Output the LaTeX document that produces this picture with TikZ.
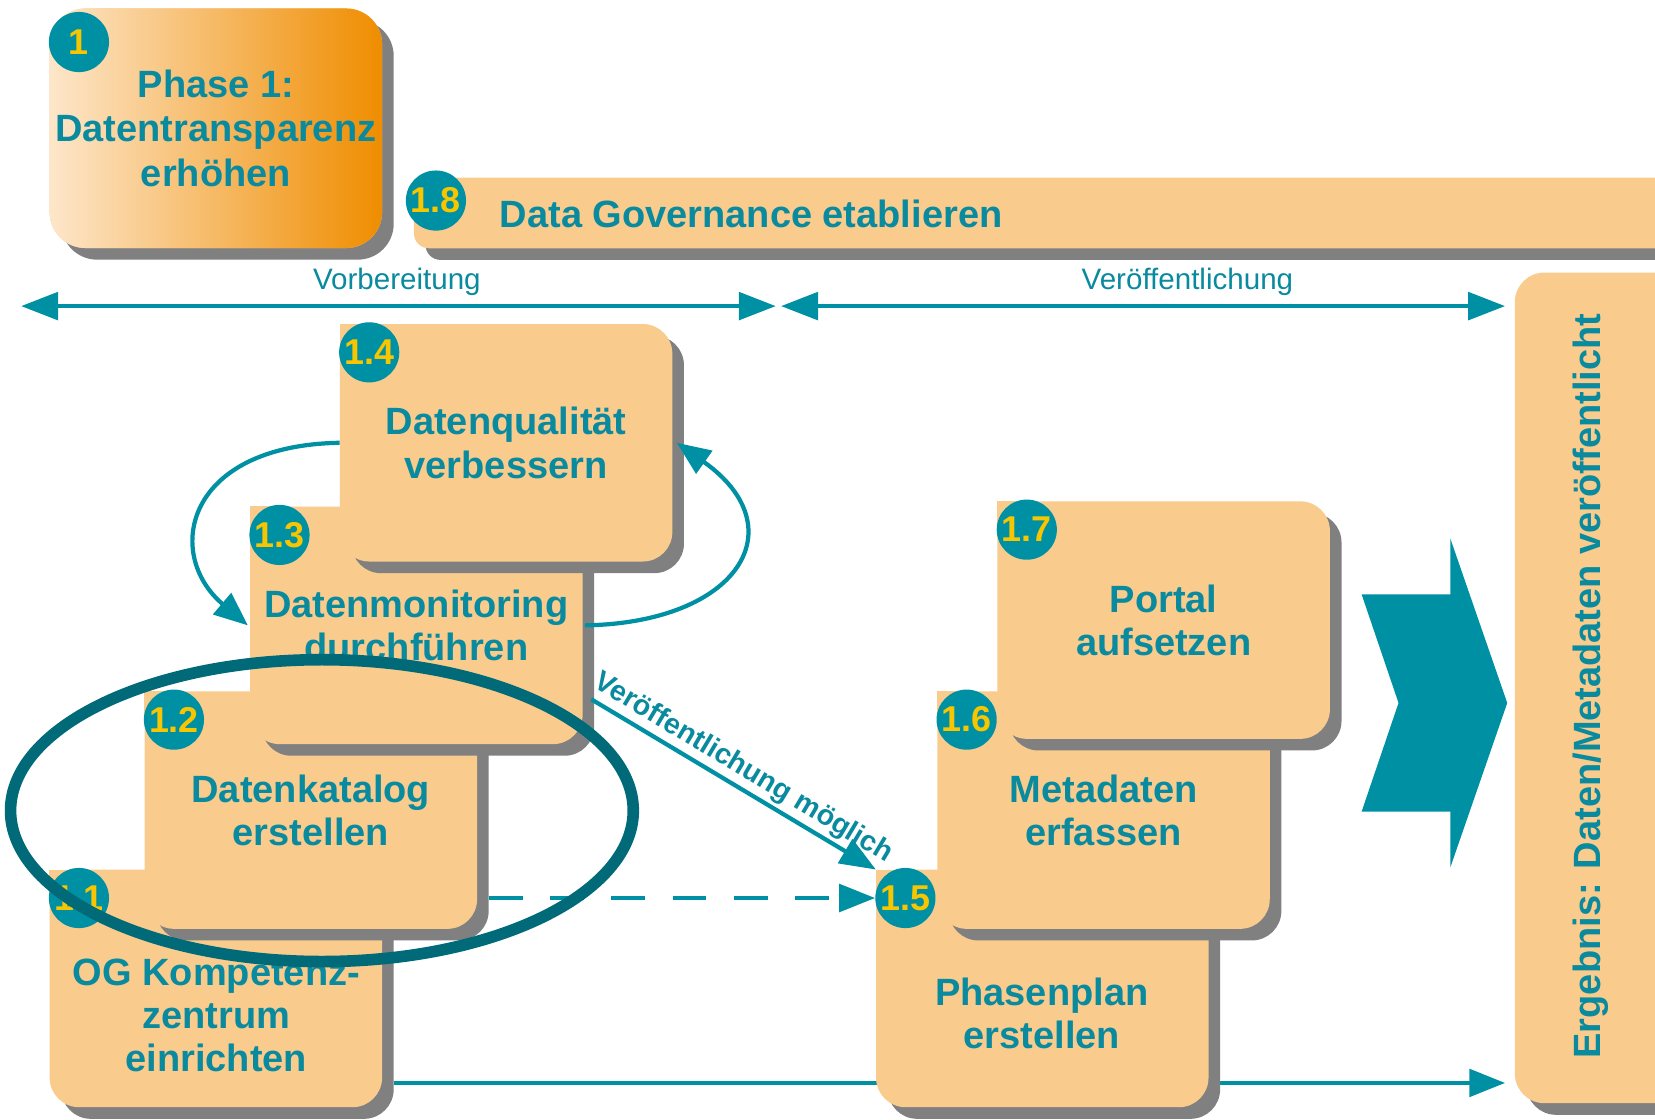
\documentclass[tikz,border=0pt]{standalone}
\usepackage{fontspec}
\setmainfont{Liberation Sans}
\usepackage{tikz}
\usetikzlibrary{arrows.meta,shadows}
\definecolor{tealtext}{HTML}{0A8A9E}
\definecolor{tealbadge}{HTML}{0090A3}
\definecolor{badgeyellow}{HTML}{F7C600}
\definecolor{boxfill}{HTML}{F9CB8D}
\definecolor{shadowgray}{HTML}{808080}
\definecolor{ringteal}{HTML}{006A79}
\definecolor{phaselight}{HTML}{FDE6CA}
\definecolor{phaseorange}{HTML}{EF8D00}

\begin{document}
\begin{tikzpicture}[x=1pt, y=-1pt,
    boxshadow/.style={drop shadow={shadow xshift=11pt, shadow yshift=-11pt, fill=shadowgray, opacity=1}},
    task/.style={fill=boxfill, rounded corners=28pt, minimum width=315pt, minimum height=225pt, inner sep=0pt, boxshadow},
    tasktext/.style={text=tealtext, font=\bfseries\fontsize{36}{41}\selectfont, align=center},
    badge/.style={circle, fill=tealbadge, minimum size=57pt, inner sep=0pt, text=badgeyellow, font=\bfseries\fontsize{34}{34}\selectfont},
    flow/.style={tealbadge, line width=4pt, -{Triangle[length=34pt, width=26pt]}},
    loop/.style={tealbadge, line width=4pt, -{Triangle[length=32pt, width=26pt]}},
    span/.style={tealbadge, line width=4pt, {Triangle[length=35pt, width=26pt]}-{Triangle[length=35pt, width=26pt]}},
    spantext/.style={text=tealtext, font=\fontsize{28}{28}\selectfont}]
    \useasboundingbox (0,0) rectangle (1568,1061);
    % Phase box
    \node[task, rounded corners=34pt, minimum height=227pt, left color=phaselight, right color=phaseorange, tasktext, font=\bfseries\fontsize{36}{42}\selectfont] (ph) at (204.5,121.5) {Phase 1:\\Datentransparenz\\erhöhen};
    \node[badge] (nph) at ([shift={(28,32)}]ph.north west) {1};
    % Data Governance bar
    \node[task, rounded corners=14pt, anchor=north west, minimum width=1220pt, minimum height=67pt] (t18) at (392,168) {};
    \node[tasktext, anchor=west] (l18) at (470,203) {Data Governance etablieren};
    \node[badge] (n18) at ([shift={(21,22)}]t18.north west) {1.8};
    % Phases
    \coordinate (v0) at (20,290);
    \coordinate (v1) at (735,290);
    \coordinate (w0) at (740,290);
    \coordinate (w1) at (1426,290);
    \draw[span] (v0) -- (v1);
    \draw[span] (w0) -- (w1);
    \node[spantext] (lv) at (376,267) {Vorbereitung};
    \node[spantext] (lw) at (1125,267) {Veröffentlichung};
    % Result box
    \node[task, anchor=north west, minimum width=220pt, minimum height=787pt] (res) at (1435,258) {};
    \node[tasktext, rotate=90] (lres) at (1507,650) {Ergebnis: Daten/Metadaten veröffentlicht};
    % Chevron
    \fill[tealbadge] (1290,563) -- (1374,563) -- (1374,510) -- (1428,666) -- (1374,822) -- (1374,769) -- (1290,769) -- (1325,666) -- cycle;
    % 1.1
    \node[task] (t11) at (204.5,936.5) {};
    \fill[boxfill] (t11.north west) rectangle +(30,30);
    \node[tasktext] (l11) at (205,962) {OG Kompetenz-\\zentrum\\einrichten};
    \node[badge] (n11) at ([shift={(28,27)}]t11.north west) {1.1};
    % line to result, behind 1.5
    \coordinate (b0) at ([xshift=11pt]t11.east);
    \coordinate (b1) at ([xshift=-9pt]res.west);
    \draw[flow] (b0 |- 0,1026) -- (b1 |- 0,1026);
    % 1.2
    \node[task] (t12) at (294.5,767.5) {};
    \fill[boxfill] (t12.north west) rectangle +(30,30);
    \node[tasktext] (l12) at (t12) {Datenkatalog\\erstellen};
    \node[badge] (n12) at ([shift={(28,27)}]t12.north west) {1.2};
    % 1.3
    \node[task] (t13) at (394.5,592.5) {};
    \fill[boxfill] (t13.north west) rectangle +(30,30);
    \node[tasktext] (l13) at (t13) {Datenmonitoring\\durchführen};
    \node[badge] (n13) at ([shift={(28,27)}]t13.north west) {1.3};
    % 1.4
    \node[task] (t14) at (479.5,419.5) {};
    \fill[boxfill] (t14.north west) rectangle +(30,30);
    \node[tasktext] (l14) at (t14) {Datenqualität\\verbessern};
    \node[badge] (n14) at ([shift={(28,27)}]t14.north west) {1.4};
    % 1.5
    \node[task] (t15) at (987.5,936.5) {};
    \fill[boxfill] (t15.north west) rectangle +(30,30);
    \node[tasktext] (l15) at (987,960) {Phasenplan\\erstellen};
    \node[badge] (n15) at ([shift={(28,27)}]t15.north west) {1.5};
    % 1.6
    \node[task] (t16) at (1045.5,767.5) {};
    \fill[boxfill] (t16.north west) rectangle +(30,30);
    \node[tasktext] (l16) at (t16) {Metadaten\\erfassen};
    \node[badge] (n16) at ([shift={(28,27)}]t16.north west) {1.6};
    % 1.7
    \node[task] (t17) at (1102.5,587.5) {};
    \fill[boxfill] (t17.north west) rectangle +(30,30);
    \node[tasktext] (l17) at (t17) {Portal\\aufsetzen};
    \node[badge] (n17) at ([shift={(28,27)}]t17.north west) {1.7};
    % Monitoring loop
    \draw[loop] (t14.west) .. controls (175,422) and (155,525) .. ([xshift=-2pt]t13.west);
    \draw[loop] ([xshift=2pt]t13.east) .. controls (700,590) and (755,500) .. ([xshift=4pt]t14.east);
    % Publication possible
    \coordinate (d1) at ([shift={(8,70)}]t13.east);
    \draw[flow] (d1) -- (t15.north west) node[midway, above, sloped, inner sep=3pt, text=tealtext, font=\bfseries\fontsize{27}{27}\selectfont] (lpub) {Veröffentlichung möglich};
    \coordinate (d2) at ([xshift=11pt]t12.east);
    \draw[flow, dash pattern=on 32pt off 26pt] (d2 |- n15.west) -- (n15.west);
    % Highlight
    \draw[ringteal, line width=11pt] (305,768) ellipse [x radius=295, y radius=143];
\end{tikzpicture}
\end{document}
